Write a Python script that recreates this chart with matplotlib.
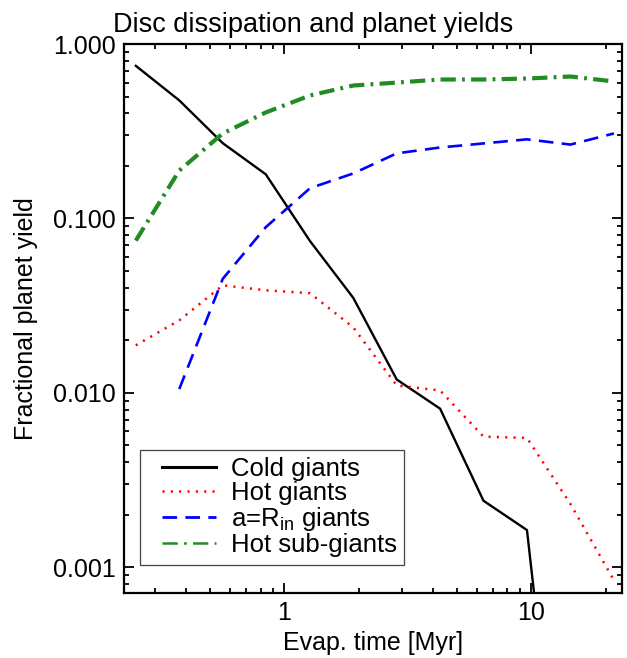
import matplotlib
matplotlib.use("Agg")
import matplotlib.pyplot as plt
from matplotlib.lines import Line2D
from matplotlib.legend_handler import HandlerLine2D
from matplotlib.ticker import FixedLocator, FixedFormatter, LogLocator, NullFormatter

plt.rcParams["font.family"] = ["Liberation Sans", "DejaVu Sans"]
plt.rcParams["mathtext.fontset"] = "custom"
plt.rcParams["mathtext.rm"] = "Liberation Sans"
plt.rcParams["lines.scale_dashes"] = False

# evaporation times [Myr]
evap_time = [0.25, 0.375, 0.5625, 0.84, 1.27, 1.9, 2.85, 4.27, 6.4, 9.6, 14.4, 21.6]

cold_giants = [0.75, 0.475, 0.27, 0.179, 0.074, 0.035, 0.0119, 0.0081, 0.0024, 0.00163, 1e-5, 1e-5]
hot_giants = [0.0187, 0.026, 0.0413, 0.0387, 0.0372, 0.0237, 0.0110, 0.0103, 0.0056, 0.0055, 0.0023, 0.00084]
rin_time = evap_time[1:]
rin_giants = [0.0105, 0.045, 0.089, 0.149, 0.181, 0.236, 0.255, 0.269, 0.284, 0.265, 0.307]
hot_subgiants = [0.0746, 0.188, 0.307, 0.405, 0.507, 0.578, 0.601, 0.626, 0.626, 0.634, 0.651, 0.61]

x_ticks = [1, 10]
x_labels = ["1", "10"]
y_ticks = [0.001, 0.01, 0.1, 1.0]
y_labels = ["0.001", "0.010", "0.100", "1.000"]

fig = plt.figure(figsize=(6.27, 6.58), dpi=100)
ax = fig.add_axes([0.1978, 0.0988, 0.7943, 0.8343])

ax.plot(evap_time, cold_giants, color="black", lw=1.7, label="Cold giants")
ax.plot(evap_time, hot_giants, color="red", lw=1.8, linestyle=(0, (1.5, 4.5)),
        label="Hot giants")
ax.plot(rin_time, rin_giants, color="blue", lw=1.9, linestyle=(0, (10.5, 6)),
        label=r"a=R$_\mathregular{in}$ giants")
ax.plot(evap_time, hot_subgiants, color="forestgreen", lw=3.0,
        linestyle=(0, (11, 4.5, 2, 4.5)), label="Hot sub-giants")

ax.set_xscale("log")
ax.set_yscale("log")
ax.set_xlim(0.224, 23.3)
ax.set_ylim(0.00071, 1.0)

ax.xaxis.set_major_locator(FixedLocator(x_ticks))
ax.xaxis.set_major_formatter(FixedFormatter(x_labels))
ax.xaxis.set_minor_locator(LogLocator(base=10, subs=range(2, 10)))
ax.xaxis.set_minor_formatter(NullFormatter())
ax.yaxis.set_major_locator(FixedLocator(y_ticks))
ax.yaxis.set_major_formatter(FixedFormatter(y_labels))
ax.yaxis.set_minor_locator(LogLocator(base=10, subs=range(2, 10)))
ax.yaxis.set_minor_formatter(NullFormatter())

ax.tick_params(which="both", direction="in", top=True, right=True, width=1.3)
ax.tick_params(which="major", length=7, labelsize=18, pad=6)
ax.tick_params(which="minor", length=3.5)
for s in ax.spines.values():
    s.set_linewidth(1.6)

ax.set_xlabel("Evap. time [Myr]", fontsize=18, labelpad=4)
ax.set_ylabel("Fractional planet yield", fontsize=18, labelpad=11)
fig.text(0.5, 0.952, "Disc dissipation and planet yields", fontsize=19.5,
         ha="center", va="baseline")

# IDL-style legend: handles start well inside the box
leg = ax.legend(loc="lower left", bbox_to_anchor=(0.032, 0.051), fontsize=18.5,
                handlelength=2.65, handletextpad=0.58, labelspacing=0.0,
                borderpad=0.3, borderaxespad=0, fancybox=False, framealpha=1,
                handler_map={Line2D: HandlerLine2D(xpad=0.55)})
leg.get_frame().set_edgecolor("#444444")
leg.get_frame().set_linewidth(0.9)
for h, lw in zip(leg.get_lines(), [2.2, 1.8, 2.0, 1.8]):
    h.set_linewidth(lw)

fig.savefig("out.png", dpi=100)
